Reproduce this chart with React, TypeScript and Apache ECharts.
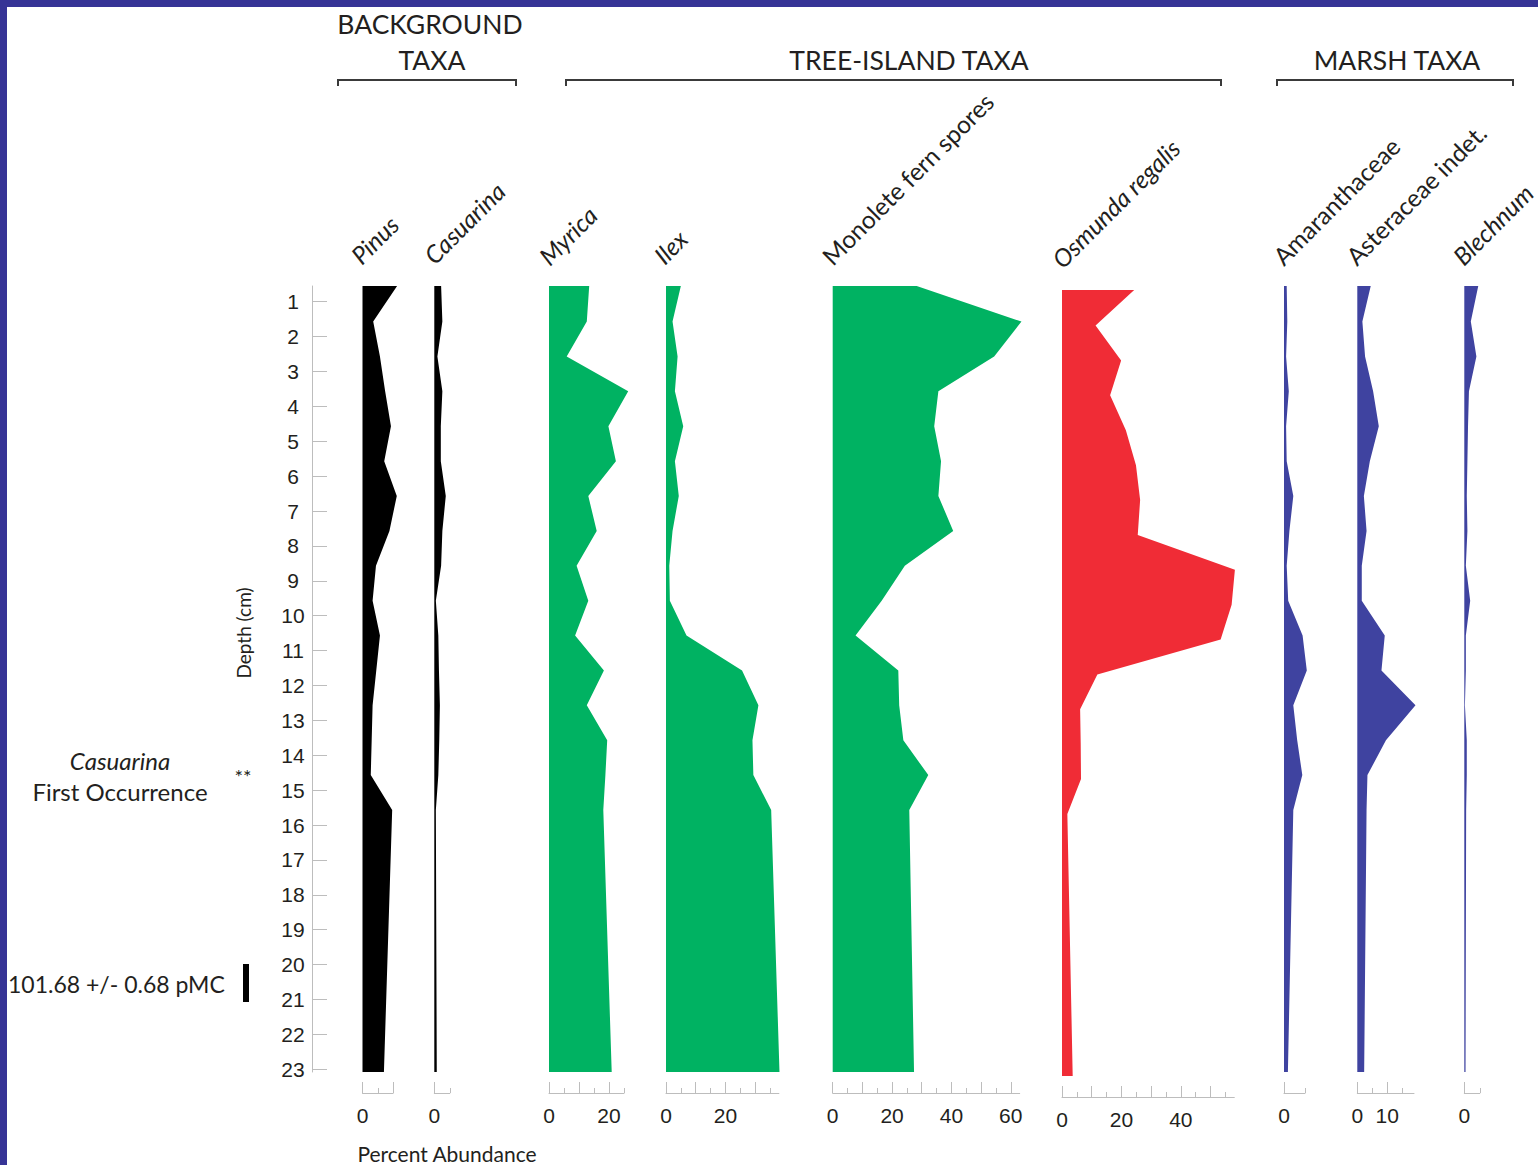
import React, { useEffect, useRef } from 'react';
import * as echarts from 'echarts';

// Sample depths (cm)
const depths = [0.55, 1.57, 2.57, 3.57, 4.57, 5.57, 6.57, 7.57, 8.57, 9.57, 10.57, 11.57, 12.57, 13.57, 14.57, 15.57, 23.08];
const depthTicks = [1, 2, 3, 4, 5, 6, 7, 8, 9, 10, 11, 12, 13, 14, 15, 16, 17, 18, 19, 20, 21, 22, 23];
const DEPTH_MIN = 0.55;
const DEPTH_MAX = 23.08;

// Percent abundance per taxon
const pinus = [11.3, 3.5, 5.7, 7.4, 9.3, 7.1, 11.2, 8.8, 4.4, 3.3, 5.7, 4.5, 3.3, 3.0, 2.7, 9.7, 7.0];
const casuarina = [2.2, 2.6, 1.0, 2.6, 2.1, 2.1, 3.7, 2.6, 2.2, 0.5, 1.3, 1.5, 1.8, 1.6, 1.3, 0.5, 0.8];
const myrica = [13.4, 12.6, 5.9, 26.4, 19.8, 22.3, 13.1, 15.9, 9.2, 13.1, 8.7, 18.3, 12.6, 19.4, 18.8, 18.1, 20.9];
const ilex = [5.0, 2.2, 3.9, 3.0, 5.8, 3.0, 4.3, 2.2, 1.1, 1.3, 6.9, 25.6, 31.1, 29.1, 29.4, 35.4, 38.2];
const monolete = [28.3, 63.6, 54.4, 35.6, 34.2, 36.5, 35.6, 40.6, 24.3, 16.5, 7.7, 22.1, 22.4, 23.8, 32.2, 25.8, 27.4];
const osmunda = [24.3, 11.3, 19.9, 16.2, 21.5, 24.9, 26.3, 25.5, 58.2, 57.1, 53.4, 11.9, 6.1, 6.3, 6.4, 1.8, 3.6];
const amaranthaceae = [0.9, 1.1, 0.7, 1.6, 0.7, 0.9, 3.1, 1.8, 0.9, 1.4, 6.2, 7.6, 3.1, 4.4, 6.1, 3.1, 1.3];
const asteraceae = [4.5, 1.7, 2.6, 5.3, 7.2, 4.2, 2.2, 3.1, 1.5, 1.5, 9.2, 8.1, 19.5, 9.6, 3.4, 3.1, 2.3];
const blechnum = [4.5, 2.1, 3.9, 1.5, 1.2, 1.0, 0.8, 1.0, 0.5, 1.9, 0.5, 0.5, 0.2, 0.8, 0.8, 0.6, 0.4];

const taxonNames = ['Pinus', 'Casuarina', 'Myrica', 'Ilex', 'Monolete fern spores', 'Osmunda regalis', 'Amaranthaceae', 'Asteraceae indet.', 'Blechnum'];
const italicNames = [true, true, true, true, false, true, false, false, true];
const seriesValues = [pinus, casuarina, myrica, ilex, monolete, osmunda, amaranthaceae, asteraceae, blechnum];
const axisMax = [10, 5, 25, 38, 63, 58, 7, 19, 5];
const majorTicks = [[0, 10], [0], [0, 10, 20], [0, 10, 20, 30], [0, 10, 20, 30, 40, 50, 60], [0, 10, 20, 30, 40, 50], [0], [0, 10], [0]];
const minorTicks = [[5], [5], [5, 15, 25], [5, 15, 25, 35], [5, 15, 25, 35, 45, 55], [5, 15, 25, 35, 45, 55], [7], [5, 15], [5]];
const tickLabels = [[0], [0], [0, 20], [0, 20], [0, 20, 40, 60], [0, 20, 40], [0], [0, 10], [0]];

const BLACK = '#000000';
const GREEN = '#00b262';
const RED = '#f02c36';
const BLUE = '#3f43a0';
const colors = [BLACK, BLACK, GREEN, GREEN, GREEN, RED, BLUE, BLUE, BLUE];

// Layout (pixels)
const panelLeft = [362.5, 434.3, 549, 666, 832.7, 1062, 1284, 1357.3, 1464.3];
const panelWidth = [30.6, 15.5, 75, 112.9, 187, 172.3, 21, 56.7, 15.5];
const panelTop = [286, 286, 286, 286, 286, 290, 286, 286, 286];
const PANEL_H = 786;
const nameAnchor = [[364, 268], [437, 268], [552, 269], [667, 268], [835, 269], [1065, 272], [1286, 269], [1359, 269], [1466, 269]];

const AXIS_GREY = '#bdbdbd';
const TEXT = '#231f20';
const NUM_FONT = 'Liberation Sans, Arial, sans-serif';
const TXT_FONT = 'Lato, "Open Sans", sans-serif';

export default function App() {
  const ref = useRef<HTMLDivElement>(null);

  useEffect(() => {
    if (!ref.current) return;
    const chart = echarts.init(ref.current, null, { renderer: 'svg' });
    const n = seriesValues.length;

    const grid: any[] = panelLeft.map((l, i) => ({ left: l, top: panelTop[i], width: panelWidth[i], height: PANEL_H }));
    // depth-axis grid
    grid.push({ left: 312, top: 286, width: 10, height: PANEL_H });

    const xAxisMain: any[] = seriesValues.map((_, i) => ({
      type: 'value',
      gridIndex: i,
      min: 0,
      max: axisMax[i],
      position: 'bottom',
      offset: 21,
      axisLine: { show: true, lineStyle: { color: AXIS_GREY, width: 1 } },
      axisTick: { show: true, inside: true, length: 5, customValues: minorTicks[i], lineStyle: { color: AXIS_GREY } },
      axisLabel: { show: true, customValues: tickLabels[i], margin: 12, fontSize: 21, color: TEXT, fontFamily: NUM_FONT },
      splitLine: { show: false },
    }));
    const xAxisMajor: any[] = seriesValues.map((_, i) => ({
      type: 'value',
      gridIndex: i,
      min: 0,
      max: axisMax[i],
      position: 'bottom',
      offset: 21,
      axisLine: { show: false },
      axisTick: { show: true, inside: true, length: 11, customValues: majorTicks[i], lineStyle: { color: AXIS_GREY } },
      axisLabel: { show: false },
      splitLine: { show: false },
    }));
    const xAxisDepthGrid = { type: 'value', gridIndex: n, min: 0, max: 1, show: false };

    const yAxis: any[] = seriesValues.map((_, i) => ({
      type: 'value',
      gridIndex: i,
      inverse: true,
      min: DEPTH_MIN,
      max: DEPTH_MAX,
      show: false,
    }));
    yAxis.push({
      type: 'value',
      gridIndex: n,
      inverse: true,
      min: DEPTH_MIN,
      max: DEPTH_MAX,
      position: 'left',
      axisLine: { show: true, lineStyle: { color: AXIS_GREY, width: 1 } },
      axisTick: { show: true, inside: true, length: 15, customValues: depthTicks, lineStyle: { color: AXIS_GREY } },
      axisLabel: { show: true, customValues: depthTicks, margin: 19, align: 'center', fontSize: 21, color: TEXT, fontFamily: NUM_FONT },
      splitLine: { show: false },
    });

    const series = seriesValues.map((vals, i) => ({
      type: 'custom',
      name: taxonNames[i],
      xAxisIndex: i,
      yAxisIndex: i,
      silent: true,
      clip: false,
      data: vals.map((v, k) => [v, depths[k]]),
      encode: { x: 0, y: 1 },
      renderItem: (params: any, api: any) => {
        if (params.dataIndex !== 0) return null;
        const pts = vals.map((v, k) => api.coord([v, depths[k]]));
        pts.push(api.coord([0, depths[depths.length - 1]]));
        pts.push(api.coord([0, depths[0]]));
        return { type: 'polygon', shape: { points: pts }, style: { fill: colors[i], stroke: null } };
      },
    }));

    const bracket = (x1: number, x2: number) => ({
      type: 'polyline',
      shape: { points: [[x1, 86], [x1, 80], [x2, 80], [x2, 86]] },
      style: { stroke: '#3a3a3a', lineWidth: 2, fill: null },
    });

    const headerText = (text: string, x: number, y: number) => ({
      type: 'text', x, y,
      style: { text, font: `26.5px ${TXT_FONT}`, fill: TEXT, textAlign: 'center', textVerticalAlign: 'middle' },
    });

    const nameTexts = taxonNames.map((t, i) => ({
      type: 'text',
      x: nameAnchor[i][0],
      y: nameAnchor[i][1],
      rotation: Math.PI / 4,
      style: {
        text: t,
        font: `${italicNames[i] ? 'italic ' : ''}24.5px ${TXT_FONT}`,
        fill: TEXT,
        textAlign: 'left',
        textVerticalAlign: 'bottom',
      },
    }));

    const graphic = [
      { type: 'rect', shape: { x: 0, y: 0, width: 1538, height: 7 }, style: { fill: '#363496' } },
      { type: 'rect', shape: { x: 0, y: 0, width: 7, height: 1165 }, style: { fill: '#363496' } },
      headerText('BACKGROUND', 430, 24),
      headerText('TAXA', 432, 60),
      headerText('TREE-ISLAND TAXA', 909, 60),
      headerText('MARSH TAXA', 1397, 60),
      bracket(338, 516),
      bracket(566, 1221),
      bracket(1277, 1513),
      ...nameTexts,
      {
        type: 'text', x: 243, y: 633, rotation: Math.PI / 2,
        style: { text: 'Depth (cm)', font: `19px ${TXT_FONT}`, fill: TEXT, textAlign: 'center', textVerticalAlign: 'middle' },
      },
      {
        type: 'text', x: 120, y: 760,
        style: { text: 'Casuarina', font: `italic 24px ${TXT_FONT}`, fill: TEXT, textAlign: 'center', textVerticalAlign: 'middle' },
      },
      {
        type: 'text', x: 120, y: 791,
        style: { text: 'First Occurrence', font: `24px ${TXT_FONT}`, fill: TEXT, textAlign: 'center', textVerticalAlign: 'middle' },
      },
      {
        type: 'text', x: 243, y: 776,
        style: { text: '**', font: `20px ${TXT_FONT}`, fill: TEXT, textAlign: 'center', textVerticalAlign: 'middle' },
      },
      {
        type: 'text', x: 8, y: 984,
        style: { text: '101.68 +/- 0.68 pMC', font: `23px ${TXT_FONT}`, fill: TEXT, textAlign: 'left', textVerticalAlign: 'middle' },
      },
      { type: 'rect', shape: { x: 243, y: 964, width: 6, height: 38 }, style: { fill: '#000' } },
      {
        type: 'text', x: 447, y: 1164,
        style: { text: 'Percent Abundance', font: `21px ${TXT_FONT}`, fill: TEXT, textAlign: 'center', textVerticalAlign: 'bottom' },
      },
    ];

    chart.setOption({
      animation: false,
      backgroundColor: '#ffffff',
      grid,
      xAxis: [...xAxisMain, ...xAxisMajor, xAxisDepthGrid],
      yAxis,
      series,
      graphic,
    });

    return () => chart.dispose();
  }, []);

  return <div ref={ref} style={{ position: 'fixed', left: 0, top: 0, width: 1538, height: 1165 }} />;
}
